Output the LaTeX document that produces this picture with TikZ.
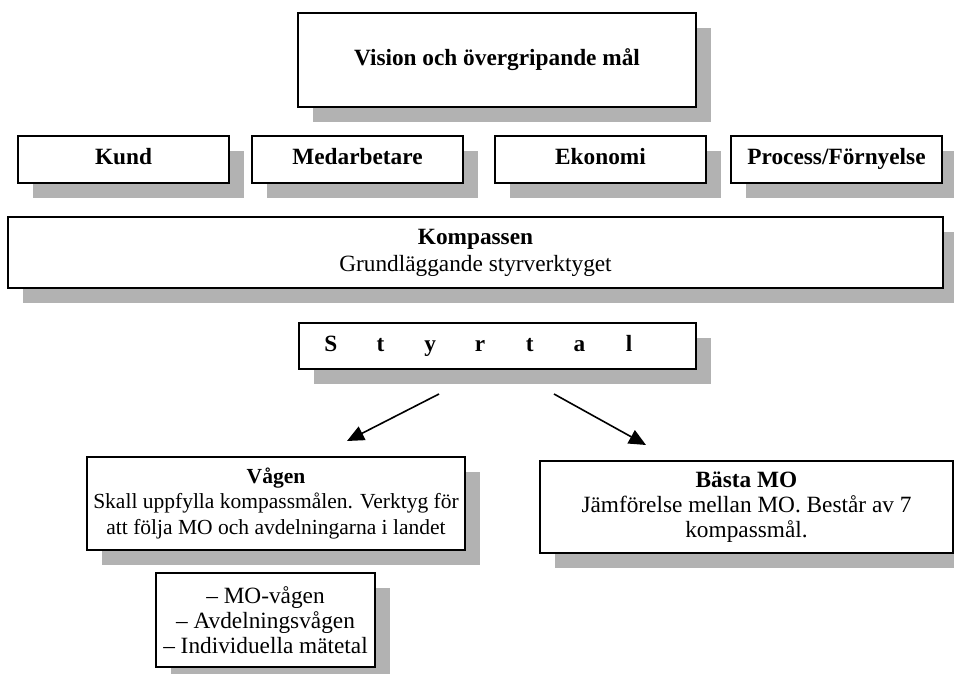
\documentclass[tikz,border=0pt]{standalone}
\usepackage{fontspec}
\setmainfont{Liberation Serif}
\usetikzlibrary{shadows,arrows.meta,calc}

% one letter cell of the spaced-out heading
\newcommand{\spacedcell}[1]{\makebox[49.7pt]{#1}}

\begin{document}
\begin{tikzpicture}[x=1pt,y=-1pt,
  txt/.style={font=\fontsize{23.3}{26.8}\selectfont},
  smalltxt/.style={font=\fontsize{21.5}{25.2}\selectfont},
  shbox/.style={draw=black, line width=1.8pt, fill=white, inner sep=0pt,
    align=center, txt,
    drop shadow={shadow xshift=15pt, shadow yshift=-15pt,
      fill=black!30, opacity=1}},
  oneline/.style={text height=16pt, text depth=5pt},
  arr/.style={line width=1.6pt, -{Triangle[length=17pt,width=15pt]}}]

\useasboundingbox (0,0) rectangle (954,674);
\clip (0,0) rectangle (954,674);

% top goal
\node[shbox, oneline, minimum width=398pt, minimum height=94pt] (vision) at (497,60)
  {\bfseries Vision och övergripande mål};

% the four perspectives
\node[shbox, oneline, minimum width=211pt, minimum height=47pt] (kund) at (123.5,159.5)
  {\bfseries Kund};
\node[shbox, oneline, minimum width=211pt, minimum height=47pt] (medarb) at (357.5,159.5)
  {\bfseries Medarbetare};
\node[shbox, oneline, minimum width=211pt, minimum height=47pt] (ekonomi) at (600.5,159.5)
  {\bfseries Ekonomi};
\node[shbox, oneline, minimum width=211pt, minimum height=47pt] (process) at (836.5,159.5)
  {\bfseries Process/Förnyelse};

% compass
\node[shbox, minimum width=935pt, minimum height=71pt] (kompass) at (475.5,252.5)
  {\bfseries Kompassen\\Grundläggande styrverktyget};

% key figures
\node[shbox, minimum width=397pt, minimum height=46pt] (styrtal) at (497.5,346) {};
\node[txt, oneline, inner sep=0pt] (styrtaltext) at (480,346)
  {\bfseries\spacedcell{S}\spacedcell{t}\spacedcell{y}\spacedcell{r}\spacedcell{t}\spacedcell{a}\spacedcell{l}};

% the two tools
\node[shbox, smalltxt, minimum width=378pt, minimum height=93pt] (vagen) at (276,503.5)
  {\textbf{Vågen}\\Skall uppfylla kompassmålen. Verktyg för\\att följa MO och avdelningarna i landet};
\node[shbox, font=\fontsize{23.3}{25.2}\selectfont, minimum width=413pt, minimum height=92pt] (basta) at (746.5,507)
  {\textbf{Bästa MO}\\Jämförelse mellan MO. Består av 7\\kompassmål.};

\node[shbox, font=\fontsize{23.3}{25.2}\selectfont, minimum width=219pt, minimum height=94pt] (items) at (265.5,620)
  {– MO-vågen\\– Avdelningsvågen\\– Individuella mätetal};

% arrows from the key figures to the tools
\coordinate (la) at (439,394);
\coordinate (lt) at (347,441);
\coordinate (ra) at (554,394);
\coordinate (rt) at (646,445);
\draw[arr] (la) -- (lt);
\draw[arr] (ra) -- (rt);
\end{tikzpicture}
\end{document}
